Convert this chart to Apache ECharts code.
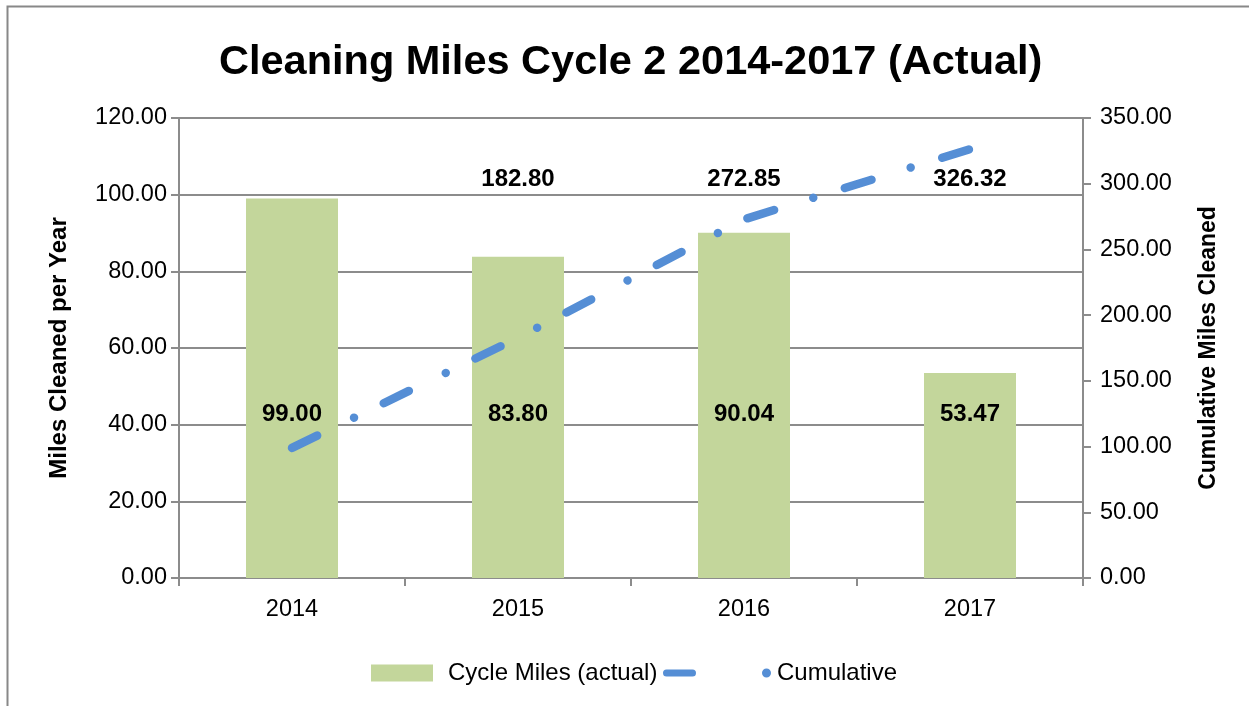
<!DOCTYPE html>
<html>
<head>
<meta charset="utf-8">
<script src="https://cdn.jsdelivr.net/npm/echarts@6/dist/echarts.min.js"></script>
<style>
  html, body { margin: 0; padding: 0; background: #fff; }
  #chart { width: 1249px; height: 706px; }
</style>
</head>
<body>
<div id="chart"></div>
<script>
// 数据
var years = ['2014', '2015', '2016', '2017'];
var cycleMiles = [99.00, 83.80, 90.04, 53.47];
var cumulative = [99.00, 182.80, 272.85, 326.32];
var showCumLabel = [false, true, true, true];

var font = 'Liberation Sans';
var chart = echarts.init(document.getElementById('chart'));

function fmt(v) { return Number(v).toFixed(2); }

// 图例: 虚线 + 圆点
var cumIcon = 'path://M3.5,1 L29.5,1 A3.5,3.5 0 0 1 29.5,8 L3.5,8 A3.5,3.5 0 0 1 3.5,1 Z M99,4.5 A4.5,4.5 0 1 0 108,4.5 A4.5,4.5 0 1 0 99,4.5 Z';

var option = {
    backgroundColor: '#fff',
    animation: false,
    textStyle: { fontFamily: font },
    title: {
        text: 'Cleaning Miles Cycle 2 2014-2017 (Actual)',
        left: 214,
        top: 37,
        textStyle: { fontFamily: font, fontSize: 41.5, fontWeight: 'bold', color: '#000' }
    },
    graphic: [{
        type: 'rect',
        shape: { x: 7.5, y: 6.5, width: 1300, height: 800 },
        style: { fill: 'none', stroke: '#888', lineWidth: 2 },
        silent: true
    }],
    legend: [{
        data: [{ name: 'Cycle Miles (actual)', icon: 'rect' }],
        left: 366,
        top: 656,
        itemWidth: 62,
        itemHeight: 17,
        textStyle: { fontFamily: font, fontSize: 24, color: '#000', padding: [0, 0, 0, 10] }
    }, {
        data: [{ name: 'Cumulative', icon: cumIcon }],
        left: 658,
        top: 656,
        itemWidth: 108,
        itemHeight: 9,
        itemStyle: { borderWidth: 0 },
        textStyle: { fontFamily: font, fontSize: 24, color: '#000', padding: [0, 0, 0, 1] }
    }],
    grid: { left: 179, right: 166, top: 118, bottom: 128 },
    xAxis: {
        type: 'category',
        data: years,
        axisLine: { lineStyle: { color: '#8c8c8c', width: 2 } },
        axisTick: { show: true, length: 8, lineStyle: { color: '#8c8c8c', width: 2 } },
        axisLabel: { color: '#000', fontSize: 23.5, margin: 20 }
    },
    yAxis: [{
        type: 'value',
        min: 0, max: 120, interval: 20,
        name: 'Miles Cleaned per Year',
        nameLocation: 'middle',
        nameRotate: 90,
        nameGap: 108,
        nameTextStyle: { fontSize: 24, fontWeight: 'bold', color: '#000' },
        axisLine: { show: true, lineStyle: { color: '#8c8c8c', width: 2 } },
        axisTick: { show: true, length: 8, lineStyle: { color: '#8c8c8c', width: 2 } },
        axisLabel: { color: '#000', fontSize: 23.5, margin: 12, formatter: fmt },
        splitLine: { lineStyle: { color: '#8c8c8c', width: 2 } }
    }, {
        type: 'value',
        min: 0, max: 350, interval: 50,
        position: 'right',
        name: 'Cumulative Miles Cleaned',
        nameLocation: 'middle',
        nameRotate: 90,
        nameGap: 114,
        nameTextStyle: { fontSize: 23, fontWeight: 'bold', color: '#000' },
        axisLine: { show: true, lineStyle: { color: '#8c8c8c', width: 2 } },
        axisTick: { show: true, length: 8, lineStyle: { color: '#8c8c8c', width: 2 } },
        axisLabel: { color: '#000', fontSize: 23.5, margin: 17, formatter: fmt },
        splitLine: { show: false }
    }],
    series: [{
        name: 'Cycle Miles (actual)',
        type: 'bar',
        data: cycleMiles,
        barWidth: 92,
        itemStyle: { color: '#c3d69b' },
        label: {
            show: true,
            position: 'insideBottom',
            distance: 152,
            color: '#000',
            fontSize: 24,
            fontWeight: 'bold',
            formatter: function (p) { return fmt(p.value); }
        }
    }, {
        name: 'Cumulative',
        type: 'line',
        yAxisIndex: 1,
        data: cumulative,
        showSymbol: true,
        symbol: 'circle',
        symbolSize: 0.1,
        itemStyle: { color: '#558ed5' },
        lineStyle: { color: '#558ed5', width: 8.5, type: [28, 41, 0.01, 33], cap: 'round' },
        z: 5
    }]
};

chart.setOption(option);

// 累计值标签放在同一高度
var labelY = 179;
var cumData = cumulative.map(function (v, i) {
    var pt = chart.convertToPixel({ seriesIndex: 1 }, [i, v]);
    return {
        value: v,
        label: {
            show: showCumLabel[i],
            position: 'inside',
            offset: [0, labelY - pt[1]],
            color: '#000',
            fontSize: 24,
            fontWeight: 'bold',
            formatter: function (p) { return fmt(p.value); }
        }
    };
});
chart.setOption({ series: [{}, { data: cumData }] });
</script>
</body>
</html>
